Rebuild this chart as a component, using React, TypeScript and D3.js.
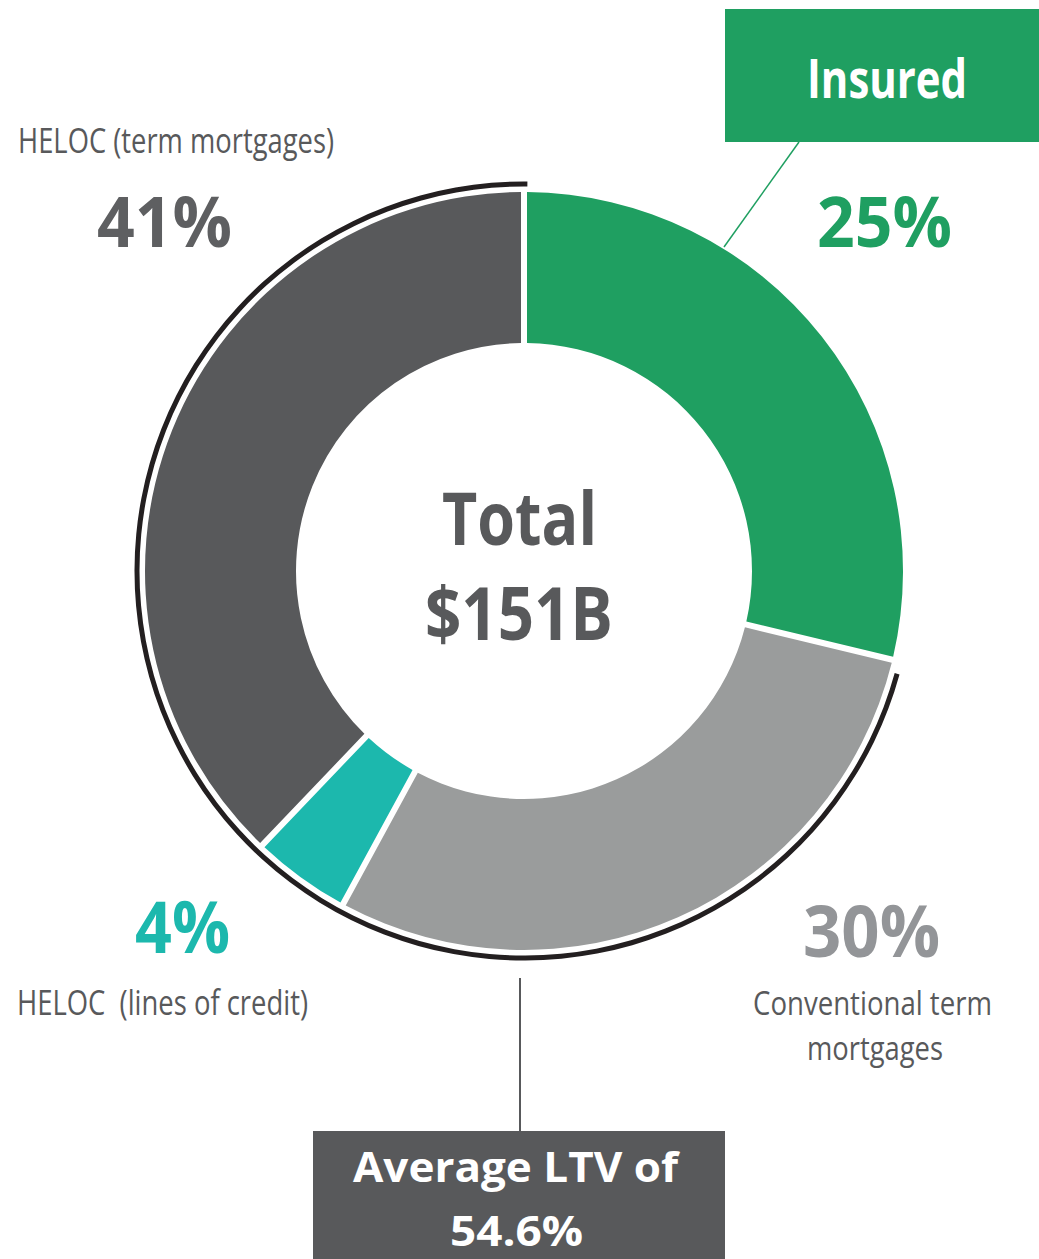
import React from "react";
import * as d3 from "d3";

// Segments, clockwise from 12 o'clock
const segmentNames = ["Insured", "Conventional term mortgages", "HELOC (lines of credit)", "HELOC (term mortgages)"];
const segmentLabels = ["25%", "30%", "4%", "41%"];
// drawn share of the ring (angular extent)
const segmentShares = [28.8, 29.2, 4.0, 38.0];
const segmentColors = ["#1f9f61", "#9a9c9c", "#1cb8ad", "#58595b"];
const labelColors = ["#1f9f61", "#939598", "#1cb8ad", "#5e5f61"];

const totalLines = ["Total", "$151B"];
const ltvLines = ["Average LTV of", "54.6%"];
const convLines = ["Conventional term", "mortgages"];

const W = 1039;
const H = 1259;
const cx = 524;
const cy = 571;
const rOuter = 379;
const rInner = 228;

export default function App() {
  const pie = d3
    .pie<number>()
    .sort(null)
    .value((d) => d)
    .startAngle(0)
    .endAngle(2 * Math.PI)
    .padAngle(6 / 380);
  const arcs = pie(segmentShares);
  const arcGen = d3
    .arc<d3.PieArcDatum<number>>()
    .innerRadius(rInner)
    .outerRadius(rOuter)
    .padRadius(380);

  const deg = Math.PI / 180;
  const outline = d3.arc()({
    innerRadius: 384.5,
    outerRadius: 389.5,
    startAngle: 105.4 * deg,
    endAngle: 360.5 * deg,
  } as any) as string;

  const font = "'Open Sans', 'DejaVu Sans', sans-serif";

  return (
    <svg
      width={W}
      height={H}
      style={{ position: "absolute", left: 0, top: 0, background: "#fff" }}
      fontFamily={font}
    >
      <rect width={W} height={H} fill="#fff" />
      <g transform={`translate(${cx},${cy})`}>
        {arcs.map((a, i) => (
          <path key={segmentNames[i]} d={arcGen(a) as string} fill={segmentColors[i]} />
        ))}
        <path d={outline} fill="#231f20" />
      </g>

      {/* center total */}
      <text x={442} y={545} fontSize={74} fontWeight={700} fill="#58595b" textLength={155} lengthAdjust="spacingAndGlyphs">
        {totalLines[0]}
      </text>
      <text x={425} y={640} fontSize={74} fontWeight={700} fill="#58595b" textLength={188} lengthAdjust="spacingAndGlyphs">
        {totalLines[1]}
      </text>

      {/* Insured box */}
      <rect x={725} y={9} width={W - 725} height={133} fill="#1f9f61" />
      <text x={807} y={98} fontSize={53} fontWeight={700} fill="#fff" textLength={160} lengthAdjust="spacingAndGlyphs">
        {segmentNames[0]}
      </text>
      <line x1={799} y1={142} x2={724} y2={247} stroke="#1f9f61" strokeWidth={1.5} />
      <text x={817} y={247} fontSize={70} fontWeight={700} fill={labelColors[0]} textLength={135} lengthAdjust="spacingAndGlyphs">
        {segmentLabels[0]}
      </text>

      {/* HELOC term */}
      <text x={18} y={152.7} fontSize={34} fill="#58595b" textLength={316} lengthAdjust="spacingAndGlyphs">
        {segmentNames[3]}
      </text>
      <text x={97} y={246.7} fontSize={70} fontWeight={700} fill={labelColors[3]} textLength={135} lengthAdjust="spacingAndGlyphs">
        {segmentLabels[3]}
      </text>

      {/* HELOC lines of credit */}
      <text x={135} y={953} fontSize={72} fontWeight={700} fill={labelColors[2]} textLength={95} lengthAdjust="spacingAndGlyphs">
        {segmentLabels[2]}
      </text>
      <text x={17} y={1015} fontSize={34} fill="#58595b" textLength={291} lengthAdjust="spacingAndGlyphs" xmlSpace="preserve">
        {"HELOC  (lines of credit)"}
      </text>

      {/* Conventional */}
      <text x={803} y={956.7} fontSize={72} fontWeight={700} fill={labelColors[1]} textLength={137} lengthAdjust="spacingAndGlyphs">
        {segmentLabels[1]}
      </text>
      <text x={753} y={1015} fontSize={33} fill="#58595b" textLength={239} lengthAdjust="spacingAndGlyphs">
        {convLines[0]}
      </text>
      <text x={807} y={1060} fontSize={33} fill="#58595b" textLength={136} lengthAdjust="spacingAndGlyphs">
        {convLines[1]}
      </text>

      {/* LTV box */}
      <line x1={520} y1={978} x2={520} y2={1131} stroke="#58595b" strokeWidth={2} />
      <rect x={313} y={1131} width={412} height={H - 1131} fill="#58595b" />
      <text x={353} y={1182} fontSize={42} fontWeight={700} fill="#fff" textLength={325} lengthAdjust="spacingAndGlyphs">
        {ltvLines[0]}
      </text>
      <text x={450} y={1246} fontSize={42} fontWeight={700} fill="#fff" textLength={133} lengthAdjust="spacingAndGlyphs">
        {ltvLines[1]}
      </text>
    </svg>
  );
}
